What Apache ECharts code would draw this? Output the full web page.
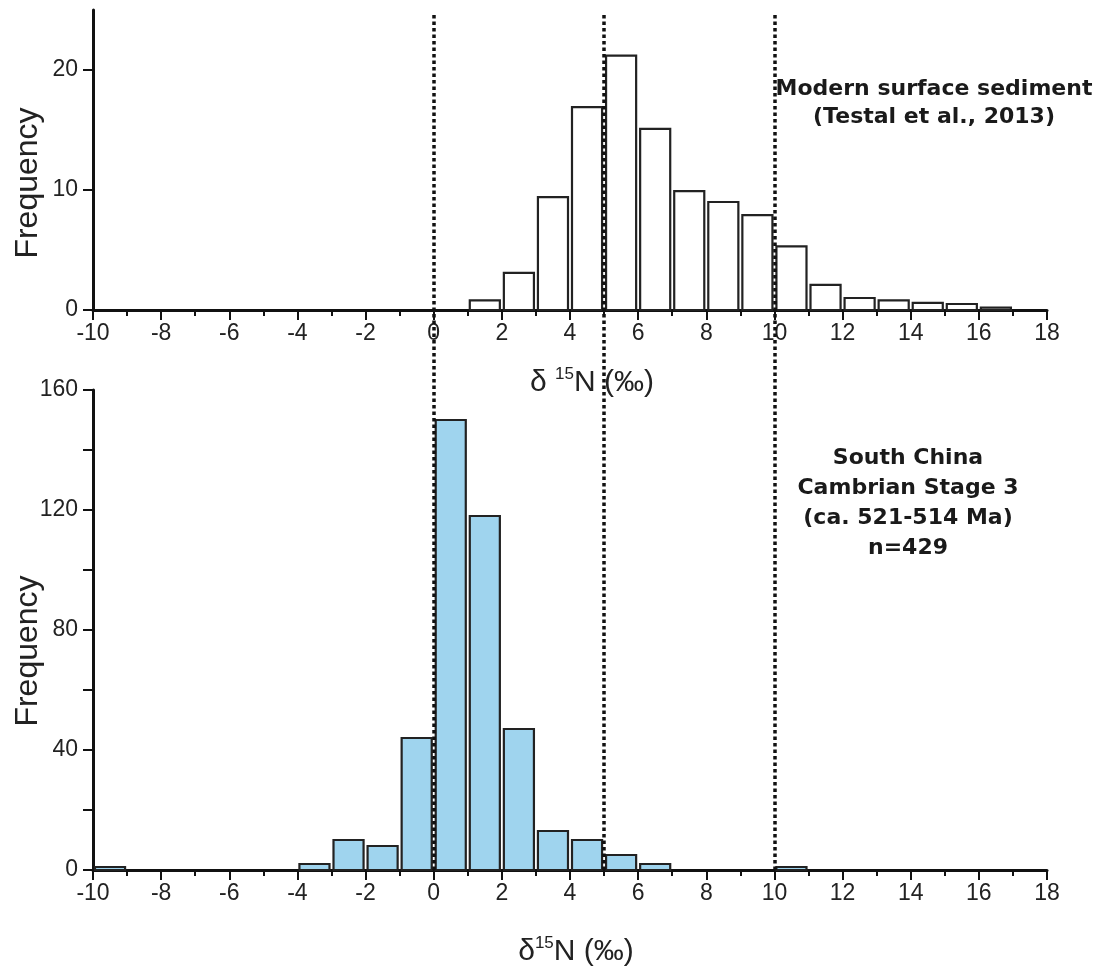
<!DOCTYPE html>
<html>
<head>
<meta charset="utf-8">
<title>d15N histograms</title>
<script src="https://cdn.jsdelivr.net/npm/echarts@6.0.0/dist/echarts.min.js"></script>
<style>
html, body { margin: 0; padding: 0; background: #fff; }
#main { width: 1103px; height: 972px; }
</style>
</head>
<body>
<div id="main"></div>
<script>
// histogram bins are 1 permil wide, listed by their left edge
var modernBins = [1, 2, 3, 4, 5, 6, 7, 8, 9, 10, 11, 12, 13, 14, 15, 16];
var modernFreq = [0.8, 3.1, 9.4, 16.9, 21.2, 15.1, 9.9, 9.0, 7.9, 5.3, 2.1, 1.0, 0.8, 0.6, 0.5, 0.2];

var chinaBins = [-10, -4, -3, -2, -1, 0, 1, 2, 3, 4, 5, 6, 10];
var chinaFreq = [1, 2, 10, 8, 44, 150, 118, 47, 13, 10, 5, 2, 1];

var modernYTicks = [0, 10, 20];
var chinaYTicks = [0, 20, 40, 60, 80, 100, 120, 140, 160];
var chinaYLabels = [0, 40, 80, 120, 160];
var guideLines = [0, 5, 10];

var binWidth = 1;
var axisColor = '#111';
var labelFont = 'Liberation Sans';

function toBins(starts, freq) {
	var out = [];
	for (var i = 0; i < starts.length; i++) {
		out.push([starts[i], starts[i] + binWidth, freq[i]]);
	}
	return out;
}

function histBar(fill) {
	return function (params, api) {
		var a = api.coord([api.value(0), api.value(2)]);
		var b = api.coord([api.value(1), 0]);
		return {
			type: 'rect',
			shape: { x: a[0] + 2, y: a[1], width: b[0] - a[0] - 4, height: b[1] - a[1] },
			style: { fill: fill, stroke: '#222', lineWidth: 2.2 }
		};
	};
}

function xAxisFor(idx) {
	return {
		type: 'value', gridIndex: idx, min: -10, max: 18, interval: 2,
		axisLine: { show: true, onZero: false, lineStyle: { color: axisColor, width: 3 } },
		axisTick: { show: true, length: 10, lineStyle: { color: axisColor, width: 2 } },
		minorTick: { show: true, splitNumber: 2, length: 6, lineStyle: { color: axisColor, width: 2 } },
		axisLabel: { fontSize: 23, color: '#222', margin: 12, fontFamily: labelFont },
		splitLine: { show: false },
		minorSplitLine: { show: false }
	};
}

function yAxisFor(idx, max, ticks, labels) {
	return {
		type: 'value', gridIndex: idx, min: 0, max: max,
		axisLine: { show: true, onZero: false, lineStyle: { color: axisColor, width: 3 } },
		axisTick: { show: true, length: 10, customValues: ticks, lineStyle: { color: axisColor, width: 2 } },
		axisLabel: { fontSize: 23, color: '#222', margin: 15, fontFamily: labelFont, customValues: labels },
		splitLine: { show: false }
	};
}

var nameRich = {
	d: { fontSize: 30, fontFamily: labelFont, fill: '#222', lineHeight: 34 },
	s: { fontSize: 17, fontFamily: labelFont, fill: '#222', lineHeight: 18, verticalAlign: 'top' },
	n: { fontSize: 30, fontFamily: labelFont, fill: '#222', lineHeight: 34 }
};
var noteStyle = { fontSize: 22, fontWeight: 'bold', fontFamily: 'DejaVu Sans', fill: '#1a1a1a', align: 'center', verticalAlign: 'middle' };

var option = {
	animation: false,
	backgroundColor: '#fff',
	grid: [
		{ left: 93, right: 56, top: 10, bottom: 662 },
		{ left: 93, right: 56, top: 390, bottom: 102 },
		{ left: 93, right: 56, top: 13, bottom: 102 }
	],
	xAxis: [
		xAxisFor(0),
		xAxisFor(1),
		{ type: 'value', gridIndex: 2, min: -10, max: 18, show: false }
	],
	yAxis: [
		yAxisFor(0, 25, modernYTicks, modernYTicks),
		yAxisFor(1, 160, chinaYTicks, chinaYLabels),
		{ type: 'value', gridIndex: 2, min: 0, max: 1, show: false }
	],
	series: [
		{
			type: 'custom', xAxisIndex: 0, yAxisIndex: 0,
			renderItem: histBar('#fff'),
			encode: { x: [0, 1], y: 2 },
			data: toBins(modernBins, modernFreq)
		},
		{
			type: 'custom', xAxisIndex: 1, yAxisIndex: 1,
			renderItem: histBar('#9fd4ee'),
			encode: { x: [0, 1], y: 2 },
			data: toBins(chinaBins, chinaFreq)
		},
		{
			type: 'line', xAxisIndex: 2, yAxisIndex: 2, data: [], z: 10,
			markLine: {
				silent: true, symbol: ['none', 'none'], label: { show: false },
				lineStyle: { color: '#111', width: 3.5, type: [3.5, 3] },
				data: guideLines.map(function (v) { return { xAxis: v }; })
			}
		}
	],
	graphic: [
		{ type: 'text', x: 28, y: 183, rotation: Math.PI / 2,
		  style: { text: 'Frequency', fontSize: 32, fontFamily: labelFont, fill: '#222', align: 'center', verticalAlign: 'middle' } },
		{ type: 'text', x: 28, y: 651, rotation: Math.PI / 2,
		  style: { text: 'Frequency', fontSize: 32, fontFamily: labelFont, fill: '#222', align: 'center', verticalAlign: 'middle' } },
		{ type: 'text', x: 592, y: 383,
		  style: { text: '{d|δ }{s|15}{n|N (‰)}', rich: nameRich, align: 'center', verticalAlign: 'middle' } },
		{ type: 'text', x: 576, y: 952,
		  style: { text: '{d|δ}{s|15}{n|N (‰)}', rich: nameRich, align: 'center', verticalAlign: 'middle' } },
		{ type: 'text', x: 934, y: 103,
		  style: Object.assign({ text: 'Modern surface sediment\n(Testal et al., 2013)', lineHeight: 28 }, noteStyle) },
		{ type: 'text', x: 908, y: 503,
		  style: Object.assign({ text: 'South China\nCambrian Stage 3\n(ca. 521-514 Ma)\nn=429', lineHeight: 30 }, noteStyle) }
	]
};

var myChart = echarts.init(document.getElementById('main'));
myChart.setOption(option);
</script>
</body>
</html>
